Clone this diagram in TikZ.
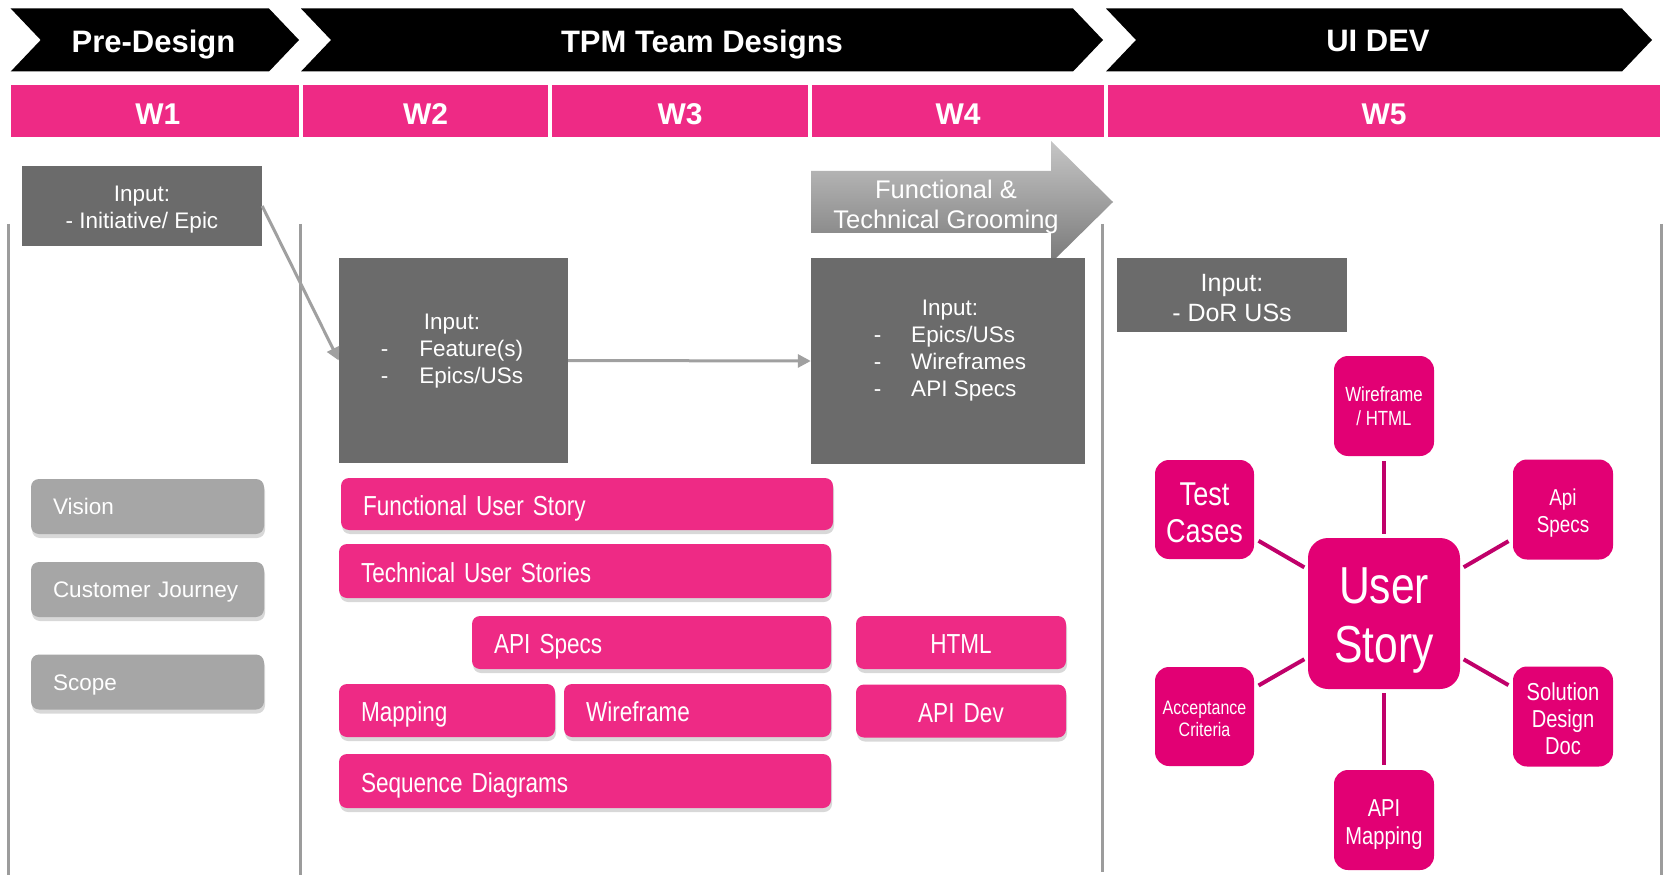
\documentclass[tikz,border=0pt]{standalone}
\usepackage{fontspec}
\setmainfont{Liberation Sans}
\newfontfamily\narrowfont[FakeStretch=0.82]{Liberation Sans}
\usetikzlibrary{shadows,arrows.meta}
\definecolor{tpink}{HTML}{EE2A85}
\definecolor{tmag}{HTML}{E20074}
\definecolor{tline}{HTML}{C0006A}
\definecolor{dgray}{HTML}{6B6B6B}
\definecolor{lgray}{HTML}{A6A6A6}
\definecolor{vline}{HTML}{9C9C9C}
\definecolor{arrgray}{HTML}{A0A0A0}
\tikzset{
  hdr/.style={text=white, text depth=0pt, font=\bfseries\fontsize{31}{37}\selectfont},
  wcell/.style={fill=tpink, minimum height=52pt, inner sep=0pt, text=white, text height=27pt, text depth=0pt, font=\bfseries\fontsize{30}{36}\selectfont},
  vl/.style={draw=vline, line width=3pt},
  dbox/.style={fill=dgray, inner sep=0pt},
  lbl/.style={text=white, align=center, inner sep=0pt},
  dtext/.style={text=white, inner sep=0pt, font=\fontsize{22.5}{27}\selectfont},
  gbox/.style={fill=lgray, rounded corners=8pt, minimum width=233pt, minimum height=55pt, inner xsep=22pt, inner ysep=0pt, text width=189pt, align=left, text=white, text height=16.5pt, text depth=0pt, font=\fontsize{22.5}{26}\selectfont, drop shadow={shadow xshift=1pt, shadow yshift=-4pt, opacity=0.3}},
  pbox/.style={fill=tpink, rounded corners=8pt, minimum height=53pt, inner xsep=22pt, inner ysep=0pt, align=left, text=white, text height=22.5pt, text depth=0pt, font=\narrowfont\fontsize{27.5}{31}\selectfont, drop shadow={shadow xshift=1pt, shadow yshift=-4pt, opacity=0.3}},
  cbox/.style={fill=tmag, rounded corners=14pt, minimum width=100pt, minimum height=100pt, inner sep=2pt},
  conn/.style={draw=arrgray, line width=3pt, -{Triangle[length=13pt,width=13pt]}},
  spoke/.style={draw=tline, line width=4pt, shorten <=5pt, shorten >=4pt},
}
\begin{document}
\begin{tikzpicture}[x=1pt,y=-1pt]
\useasboundingbox[fill=white] (0,0) rectangle (1673,885);

% phase chevrons
\fill[black] (10.7,8.5) -- (269,8.5) -- (299,40) -- (269,71.5) -- (10.7,71.5) -- (40.7,40) -- cycle;
\fill[black] (301,8.5) -- (1073,8.5) -- (1103,40) -- (1073,71.5) -- (301,71.5) -- (331,40) -- cycle;
\fill[black] (1106,8.5) -- (1622,8.5) -- (1652,40) -- (1622,71.5) -- (1106,71.5) -- (1136,40) -- cycle;
\node[hdr] (pre) at (153.5,41) {Pre-Design};
\node[hdr] (tpm) at (702,41) {TPM Team Designs};
\node[hdr] (ui) at (1378,41) {UI DEV};

% week cells
\node[wcell, minimum width=288.3pt] (c1) at (154.85,111) {\hspace*{6pt}W1};
\node[wcell, minimum width=245pt] (c2) at (425.5,111) {W2};
\node[wcell, minimum width=256pt] (c3) at (680,111) {W3};
\node[wcell, minimum width=292pt] (c4) at (958,111) {W4};
\node[wcell, minimum width=552pt] (c5) at (1384,111) {W5};

% vertical separators
\draw[vl] (8.5,224) -- (8.5,875);
\draw[vl] (300,224) -- (300,875);
\draw[vl] (1102,224) -- (1102,872);
\draw[vl] (1661,224) -- (1661,875);

% grooming arrow
\shade[top color=gray!45, bottom color=gray!95!black!100]
  (811,171) -- (1051,171) -- (1051,141) -- (1113,202) -- (1051,263) -- (1051,233) -- (811,233) -- cycle;
\node[text=white, align=center, font=\fontsize{25.5}{30}\selectfont] (groom) at (946,207) {Functional \&\\Technical Grooming};

% input boxes
\node[dbox, minimum width=240pt, minimum height=80pt,
  label={[lbl, font=\fontsize{22.5}{27}\selectfont, yshift=-4pt]center:{Input:\\- Initiative/ Epic}}] (w1) at (142,206) {};
\node[dbox, minimum width=229pt, minimum height=205pt] (w2) at (453.5,360.5) {};
\node[dtext] (w2t) at (452,351) {\begin{tabular}{@{}l@{\hspace{31pt}}l@{}}\multicolumn{2}{c}{Input:}\\-&Feature(s)\\-&Epics/USs\end{tabular}};
\node[dbox, minimum width=274pt, minimum height=206pt] (w4) at (948,361) {};
\node[dtext] (w4t) at (950,350.5) {\begin{tabular}{@{}l@{\hspace{30pt}}l@{}}\multicolumn{2}{c}{Input:}\\-&Epics/USs\\-&Wireframes\\-&API Specs\end{tabular}};
\node[dbox, minimum width=230pt, minimum height=74pt,
  label={[lbl, font=\fontsize{25}{29.5}\selectfont, yshift=-3pt]center:{Input:\\- DoR USs}}] (w5) at (1232,295) {};

\draw[conn] (w1.east) -- (w2.west);
\draw[conn] (w2.east) -- (w4.west);

% pre-design items
\node[gbox] (vis) at (147.5,506.5) {Vision};
\node[gbox] (cj) at (147.5,589.5) {Customer Journey};
\node[gbox] (scope) at (147.5,682) {Scope};

% design items
\node[pbox, text width=448pt, minimum height=52pt] (fus) at (587,504) {Functional User Story};
\node[pbox, text width=448pt, minimum height=54pt] (tus) at (585,571) {Technical User Stories};
\node[pbox, text width=315pt] (apis) at (651.5,642.5) {API Specs};
\node[pbox, text width=166pt, align=center] (html) at (961,642.5) {HTML};
\node[pbox, text width=172pt] (map) at (447,710.5) {Mapping};
\node[pbox, text width=223pt] (wfr) at (697.5,710.5) {Wireframe};
\node[pbox, text width=166pt, align=center] (apid) at (961,711) {API Dev};
\node[pbox, text width=448pt, minimum height=54pt] (seq) at (585,781) {Sequence Diagrams};

% user story cluster
\node[cbox, minimum width=152pt, minimum height=151pt, rounded corners=20pt,
  label={[lbl, font=\narrowfont\fontsize{52}{59}\selectfont, yshift=-7.5pt]center:{User\\Story}}] (us) at (1384,613.5) {};
\node[cbox, label={[lbl, font=\narrowfont\fontsize{20.5}{24}\selectfont]center:{Wireframe\\/ HTML}}] (wf) at (1384,406) {};
\node[cbox, minimum width=99pt, minimum height=99pt,
  label={[lbl, font=\narrowfont\fontsize{33}{37}\selectfont, yshift=-3pt]center:{Test\\Cases}}] (tc) at (1204.5,509.5) {};
\node[cbox, label={[lbl, font=\narrowfont\fontsize{23}{27}\selectfont, yshift=-4pt]center:{Api\\Specs}}] (as) at (1563,509.5) {};
\node[cbox, minimum width=99pt, minimum height=99pt,
  label={[lbl, font=\narrowfont\fontsize{19.5}{22}\selectfont, yshift=-2.5pt]center:{Acceptance\\Criteria}}] (ac) at (1204.5,716.5) {};
\node[cbox, label={[lbl, font=\narrowfont\fontsize{24.5}{27}\selectfont, yshift=-2pt]center:{Solution\\Design\\Doc}}] (sd) at (1563,716.5) {};
\node[cbox, label={[lbl, font=\narrowfont\fontsize{24.5}{28}\selectfont, yshift=-5pt]center:{API\\Mapping}}] (am) at (1384,820) {};

\draw[spoke] (wf) -- (us);
\draw[spoke] (tc) -- (us);
\draw[spoke] (as) -- (us);
\draw[spoke] (ac) -- (us);
\draw[spoke] (sd) -- (us);
\draw[spoke] (am) -- (us);
\end{tikzpicture}
\end{document}
